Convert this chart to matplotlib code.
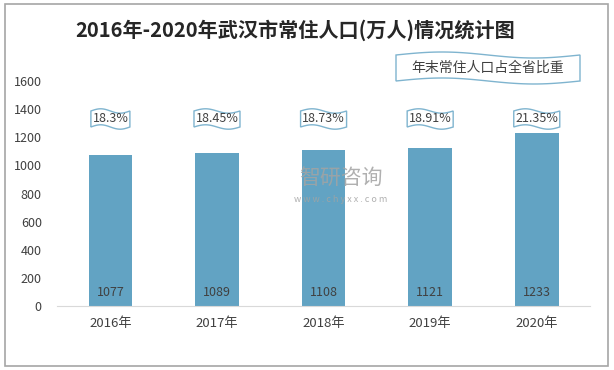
import numpy as np
import matplotlib
matplotlib.use('Agg')
import matplotlib.pyplot as plt
from matplotlib.path import Path
from matplotlib.patches import PathPatch, Rectangle

plt.rcParams['font.family'] = ['Noto Sans CJK SC', 'DejaVu Sans']

years = ['2016年', '2017年', '2018年', '2019年', '2020年']
population = [1077, 1089, 1108, 1121, 1233]
share = ['18.3%', '18.45%', '18.73%', '18.91%', '21.35%']
title = '2016年-2020年武汉市常住人口(万人)情况统计图'
legend_text = '年末常住人口占全省比重'

bar_color = '#62a3c3'
wave_color = '#7fb4cf'


def wavy_box(fig, cx, cy, w, h, amp=2.0):
    # flag-like box with wavy top and bottom, in pixel coords
    t = np.linspace(0, 1, 40)
    xs = cx - w / 2 + w * t
    top = cy + h / 2 + amp * np.sin(2 * np.pi * t)
    bot = cy - h / 2 + amp * np.sin(2 * np.pi * t)
    verts = list(zip(xs, top)) + list(zip(xs[::-1], bot[::-1])) + [(xs[0], top[0])]
    codes = [Path.MOVETO] + [Path.LINETO] * (len(verts) - 2) + [Path.CLOSEPOLY]
    p = PathPatch(Path(verts, codes), transform=None, facecolor='white',
                  edgecolor=wave_color, lw=1.0)
    fig.patches.append(p)


fig = plt.figure(figsize=(6.14, 3.70), dpi=100)
fig.patches.append(Rectangle((0.008, 0.011), 0.983, 0.978, transform=fig.transFigure,
                             fill=False, edgecolor='#a6a6a6', lw=1.2))

ax = fig.add_axes([0.093, 0.173, 0.868, 0.608])
x = np.arange(len(years))
ax.bar(x, population, width=0.41, color=bar_color, zorder=2)
ax.set_xlim(-0.5, len(years) - 0.5)
ax.set_ylim(0, 1600)
ax.set_yticks(range(0, 1601, 200))
ax.set_xticks(x)
ax.set_xticklabels(years, fontsize=9.5, color='#404040')
ax.tick_params(axis='y', labelsize=9, colors='#404040', length=0, pad=11)
ax.tick_params(axis='x', length=0, pad=8)
for s in ['top', 'right', 'left']:
    ax.spines[s].set_visible(False)
ax.spines['bottom'].set_color('#d9d9d9')

for xi, v in zip(x, population):
    ax.text(xi, 95, str(v), ha='center', va='center', fontsize=9, color='#404040', zorder=3)

fig.canvas.draw()
for xi, lab in zip(x, share):
    px, py = ax.transData.transform((xi, 1330))
    w = 7.0 * len(lab) + 4
    wavy_box(fig, px, py, w, 16, amp=2.2)
    fig.text(px / 614, py / 370, lab, ha='center', va='center', fontsize=9,
             color='#404040', zorder=5)

# legend-like label
wavy_box(fig, 488, 370 - 68, 184, 26, amp=3.0)
fig.text(488 / 614, (370 - 68) / 370, legend_text, ha='center', va='center',
         fontsize=10, color='#404040', zorder=5)

fig.text(0.481, 0.918, title, ha='center', va='center', fontsize=14.5,
         fontweight='bold', color='#262626')

# watermark
fig.text(0.555, 0.518, '智研咨询', ha='center', va='center', fontsize=15,
         color='#a3a3a3', alpha=0.85, zorder=6)
fig.text(0.555, 0.462, 'w w w . c h y x x . c o m', ha='center', va='center',
         fontsize=6.5, color='#a3a3a3', alpha=0.85, zorder=6)

fig.savefig('out.png', dpi=100)
